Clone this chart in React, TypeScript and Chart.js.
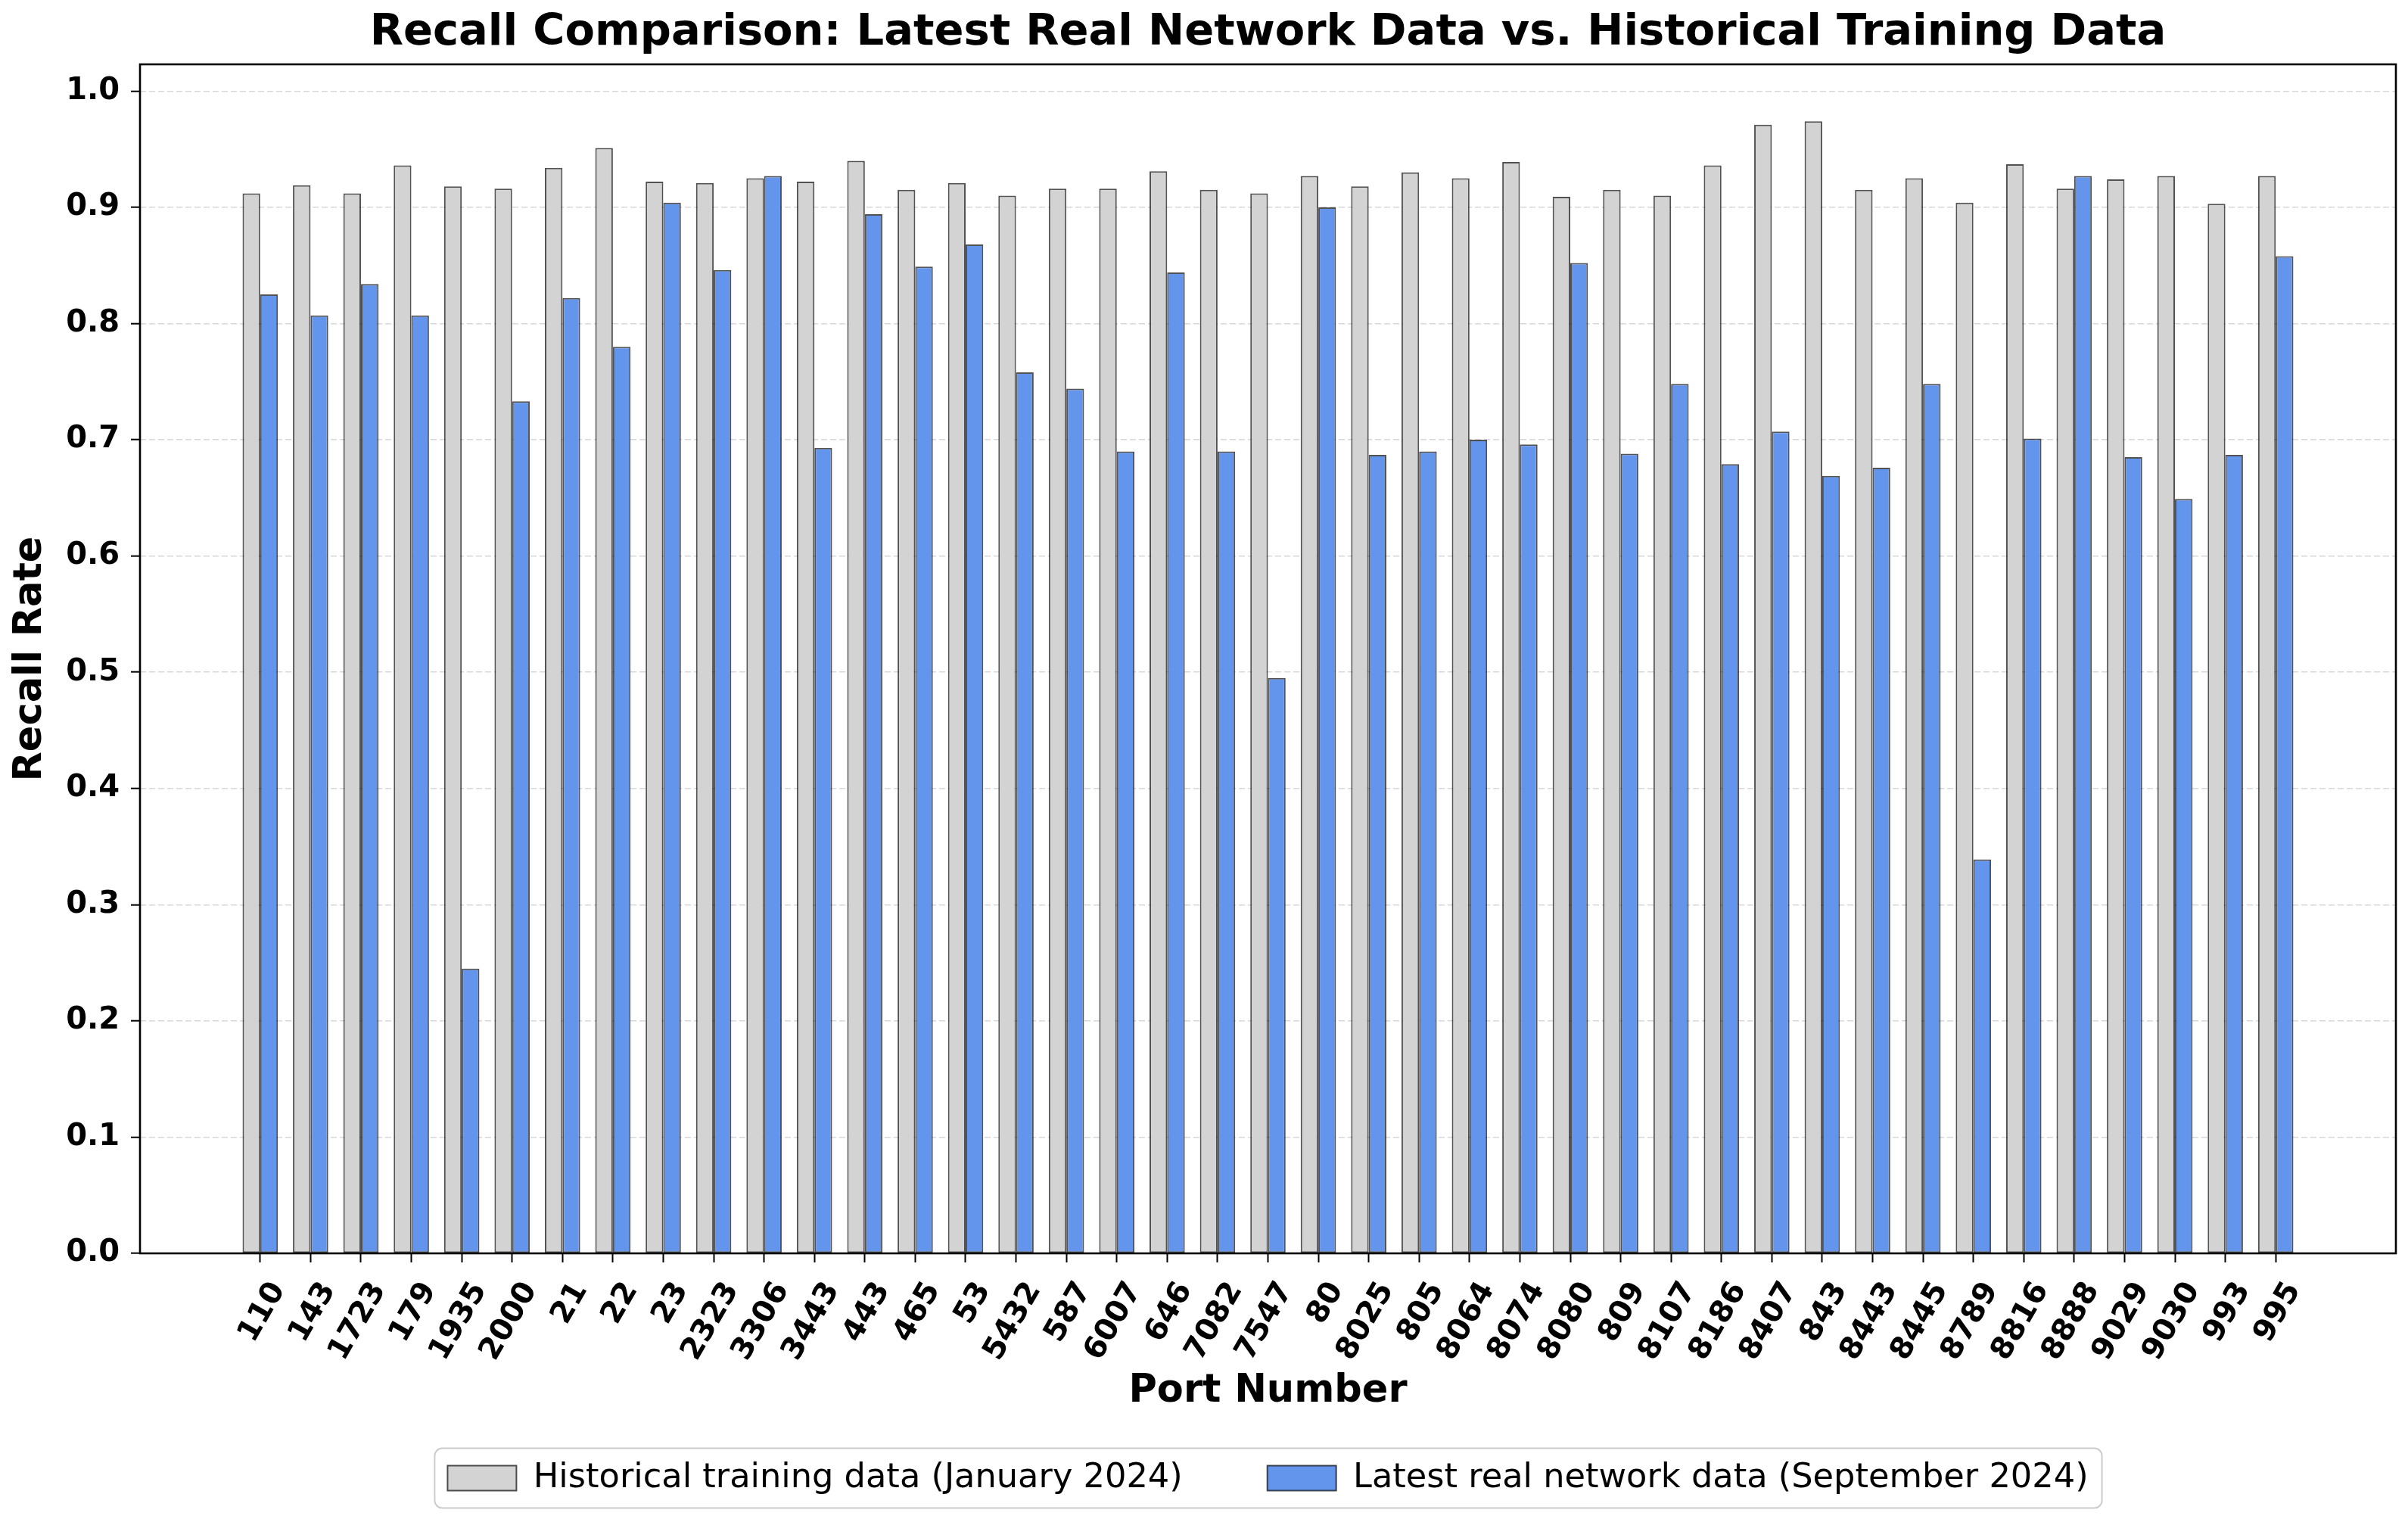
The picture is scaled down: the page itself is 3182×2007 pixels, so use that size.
import React, { useEffect, useRef } from 'react';
import { Chart, registerables } from 'chart.js';

Chart.register(...registerables);

const ports = ['110', '143', '1723', '179', '1935', '2000', '21', '22', '23', '2323', '3306', '3443', '443', '465', '53', '5432', '587', '6007', '646', '7082', '7547', '80', '8025', '805', '8064', '8074', '8080', '809', '8107', '8186', '8407', '843', '8443', '8445', '8789', '8816', '8888', '9029', '9030', '993', '995'];

const historical = [0.912, 0.919, 0.912, 0.936, 0.918, 0.916, 0.934, 0.951, 0.922, 0.921, 0.925, 0.922, 0.940, 0.915, 0.921, 0.910, 0.916, 0.916, 0.931, 0.915, 0.912, 0.927, 0.918, 0.930, 0.925, 0.939, 0.909, 0.915, 0.910, 0.936, 0.971, 0.974, 0.915, 0.925, 0.904, 0.937, 0.916, 0.924, 0.927, 0.903, 0.927];

const latest = [0.825, 0.807, 0.834, 0.807, 0.245, 0.733, 0.822, 0.780, 0.904, 0.846, 0.927, 0.693, 0.894, 0.849, 0.868, 0.758, 0.744, 0.690, 0.844, 0.690, 0.495, 0.900, 0.687, 0.690, 0.700, 0.696, 0.852, 0.688, 0.748, 0.679, 0.707, 0.669, 0.676, 0.748, 0.339, 0.701, 0.927, 0.685, 0.649, 0.687, 0.858];

const yTickValues = [0, 0.1, 0.2, 0.3, 0.4, 0.5, 0.6, 0.7, 0.8, 0.9, 1.0];

const seriesLabels = ['Historical training data (January 2024)', 'Latest real network data (September 2024)'];
const titleText = 'Recall Comparison: Latest Real Network Data vs. Historical Training Data';

export default function App() {
  const ref = useRef<HTMLCanvasElement>(null);

  useEffect(() => {
    const canvas = ref.current;
    if (!canvas) return;
    Chart.defaults.font.family = "'DejaVu Sans', sans-serif";
    Chart.defaults.color = '#000';

    const framePlugin = {
      id: 'axesFrame',
      afterDatasetsDraw(chart: any) {
        const { ctx, chartArea: a } = chart;
        ctx.save();
        ctx.strokeStyle = '#000';
        ctx.lineWidth = 2.6;
        ctx.strokeRect(a.left, a.top, a.right - a.left, a.bottom - a.top);
        ctx.restore();
      },
    };

    const legendFramePlugin = {
      id: 'legendFrame',
      afterDraw(chart: any) {
        const lg = chart.legend;
        if (!lg || !lg.legendHitBoxes || !lg.legendHitBoxes.length) return;
        const hb = lg.legendHitBoxes;
        const first = hb[0];
        const last = hb[hb.length - 1];
        const x0 = first.left - 17;
        const x1 = last.left + last.width + 18;
        const yc = first.top + first.height / 2;
        const ctx = chart.ctx;
        ctx.save();
        ctx.strokeStyle = '#cccccc';
        ctx.lineWidth = 2;
        ctx.beginPath();
        (ctx as any).roundRect(x0, yc - 39.5, x1 - x0, 79, 10);
        ctx.stroke();
        ctx.restore();
      },
    };

    const chart = new Chart(canvas, {
      type: 'bar',
      data: {
        datasets: [
          {
            label: seriesLabels[0],
            data: ports.map((_, i) => ({ x: i, y: historical[i] })),
            backgroundColor: '#d3d3d3',
            borderColor: 'rgba(0,0,0,0.68)',
            borderWidth: 2,
            borderSkipped: false,
            categoryPercentage: 0.7,
            barPercentage: 1.0,
          },
          {
            label: seriesLabels[1],
            data: ports.map((_, i) => ({ x: i, y: latest[i] })),
            backgroundColor: '#6495ed',
            borderColor: 'rgba(0,0,0,0.68)',
            borderWidth: 2,
            borderSkipped: false,
            categoryPercentage: 0.7,
            barPercentage: 1.0,
          },
        ],
      } as any,
      options: {
        responsive: false,
        animation: false,
        devicePixelRatio: 1,
        layout: { padding: { left: 0, right: 16, top: 0, bottom: 21.65 } },
        plugins: {
          tooltip: { enabled: false },
          title: {
            display: true,
            text: titleText,
            fullSize: false,
            color: '#000',
            font: { size: 57.5, weight: 'bold' },
            padding: { top: 10, bottom: 6 },
          },
          legend: {
            display: true,
            position: 'bottom',
            fullSize: false,
            labels: {
              color: '#000',
              font: { size: 44.7, weight: 'normal' },
              boxWidth: 91,
              boxHeight: 33,
              padding: 112,
            },
          },
        },
        scales: {
          x: {
            type: 'linear',
            min: -2.385,
            max: 42.385,
            offset: false,
            afterBuildTicks: (s: any) => {
              s.ticks = ports.map((_, i) => ({ value: i }));
            },
            afterFit: (s: any) => {
              s.height = 162.65;
            },
            ticks: {
              autoSkip: false,
              minRotation: 60,
              maxRotation: 60,
              padding: 18,
              labelOffset: 24,
              color: '#000',
              font: { size: 40, weight: 'bold' },
              callback: (v: any) => ports[Math.round(Number(v))] ?? '',
            },
            grid: {
              display: true,
              drawOnChartArea: false,
              drawTicks: true,
              tickLength: 12,
              tickColor: '#000',
              tickWidth: 2,
              offset: false,
            },
            border: { display: false },
            title: {
              display: true,
              text: 'Port Number',
              color: '#000',
              font: { size: 51, weight: 'bold' },
              padding: { top: 0, bottom: -50.35 },
            },
          },
          y: {
            type: 'linear',
            min: 0,
            max: 1.023,
            afterBuildTicks: (s: any) => {
              s.ticks = yTickValues.map((v) => ({ value: v }));
            },
            afterFit: (s: any) => {
              s.width = 185;
            },
            ticks: {
              padding: 15,
              color: '#000',
              font: { size: 40, weight: 'bold' },
              callback: (v: any) => Number(v).toFixed(1),
            },
            grid: {
              display: true,
              drawOnChartArea: true,
              drawTicks: true,
              color: 'rgba(195,195,195,0.65)',
              lineWidth: 1.4,
              tickLength: 12,
              tickColor: '#000',
              tickWidth: 2,
              tickBorderDash: [],
            },
            border: { display: false, dash: [8, 4] },
            title: {
              display: true,
              text: 'Recall Rate',
              color: '#000',
              font: { size: 51, weight: 'bold' },
              padding: { top: 10, bottom: 0 },
            },
          },
        },
      } as any,
      plugins: [framePlugin, legendFramePlugin],
    });

    return () => chart.destroy();
  }, []);

  return (
    <div style={{ position: 'fixed', left: 0, top: 0, width: 3182, height: 2007, background: '#fff' }}>
      <canvas ref={ref} width={3182} height={2007} style={{ display: 'block' }} />
    </div>
  );
}
